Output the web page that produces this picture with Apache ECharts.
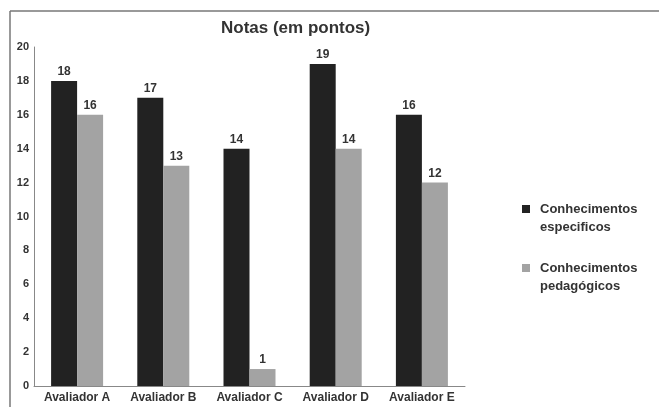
<!DOCTYPE html>
<html>
<head>
<meta charset="utf-8">
<script src="https://cdn.jsdelivr.net/npm/echarts@6/dist/echarts.min.js"></script>
<style>html,body{margin:0;padding:0;background:#fff}#c{width:659px;height:407px}</style>
</head>
<body>
<div id="c"></div>
<script>
var categories = ['Avaliador A', 'Avaliador B', 'Avaliador C', 'Avaliador D', 'Avaliador E'];
var especificos = [18, 17, 14, 19, 16];
var pedagogicos = [16, 13, 1, 14, 12];
var seriesNames = ['Conhecimentos\nespecificos', 'Conhecimentos\npedagógicos'];
var yTicks = { min: 0, max: 20, interval: 2 };

var chart = echarts.init(document.getElementById('c'), null, { renderer: 'canvas' });
var txt = '#333';
var font = '"Liberation Sans", Arial, sans-serif';
var iconPath = 'path://M0,0h8v8h-8z M12.99,25.99h0.01v0.01h-0.01z';
chart.setOption({
  animation: false,
  backgroundColor: '#fff',
  title: {
    text: 'Notas (em pontos)',
    left: 221, top: 20, padding: 0,
    textStyle: { fontFamily: font, fontSize: 17, fontWeight: 'bold', color: txt }
  },
  legend: {
    orient: 'vertical',
    left: 522, top: 200,
    padding: 0,
    itemGap: 23,
    itemWidth: 13, itemHeight: 26,
    icon: iconPath,
    textStyle: { fontFamily: font, fontSize: 13, fontWeight: 'bold', color: txt, lineHeight: 18 },
    data: seriesNames
  },
  grid: { left: 34, right: 194, top: 47, bottom: 21, containLabel: false },
  xAxis: {
    type: 'category',
    data: categories,
    axisLine: { lineStyle: { color: '#888', width: 1 } },
    axisTick: { show: false },
    axisLabel: { margin: 6, fontFamily: font, fontSize: 12, fontWeight: 'bold', color: txt }
  },
  yAxis: {
    type: 'value',
    min: yTicks.min, max: yTicks.max, interval: yTicks.interval,
    splitLine: { show: false },
    axisLine: { show: true, lineStyle: { color: '#888', width: 1 } },
    axisTick: { show: false },
    axisLabel: { margin: 5, fontFamily: font, fontSize: 11, fontWeight: 'bold', color: txt }
  },
  series: [
    {
      name: seriesNames[0], type: 'bar', data: especificos,
      barWidth: 26, barGap: '0%',
      itemStyle: { color: '#222' },
      label: { show: true, position: 'top', distance: 3, fontFamily: font, fontSize: 12, fontWeight: 'bold', color: txt }
    },
    {
      name: seriesNames[1], type: 'bar', data: pedagogicos,
      barWidth: 26, barGap: '0%',
      itemStyle: { color: '#a3a3a3' },
      label: { show: true, position: 'top', distance: 3, fontFamily: font, fontSize: 12, fontWeight: 'bold', color: txt }
    }
  ],
  graphic: [
    { type: 'line', shape: { x1: 10, y1: 11, x2: 659, y2: 11 }, style: { stroke: '#777', lineWidth: 1.5 } },
    { type: 'line', shape: { x1: 10, y1: 11, x2: 10, y2: 407 }, style: { stroke: '#777', lineWidth: 1.5 } }
  ]
});
</script>
</body>
</html>
